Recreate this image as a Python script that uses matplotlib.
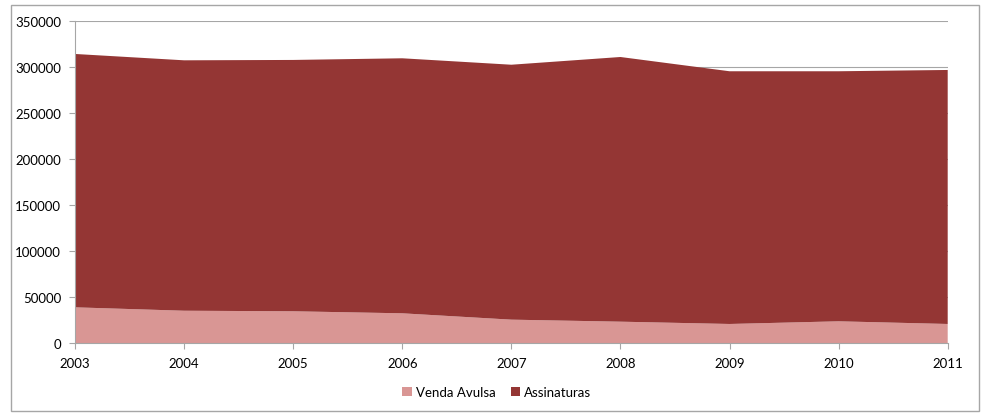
import matplotlib
matplotlib.use("Agg")
import matplotlib.pyplot as plt
from matplotlib.patches import Rectangle, Patch

years = [2003, 2004, 2005, 2006, 2007, 2008, 2009, 2010, 2011]
venda_avulsa = [39100, 35400, 34800, 32600, 25700, 23500, 21000, 23900, 21000]
assinaturas = [275400, 272200, 273200, 277200, 277100, 287700, 274700, 271800, 276100]
series_names = ["Venda Avulsa", "Assinaturas"]
colors = ["#D99694", "#943634"]

plt.rcParams["font.family"] = ["Lato", "DejaVu Sans"]

fig = plt.figure(figsize=(9.86, 4.14), dpi=100)
ax = fig.add_axes([75 / 986, 1 - 344.3 / 414, (947.7 - 75) / 986, (344.3 - 22.3) / 414])

ax.stackplot(years, venda_avulsa, assinaturas, colors=colors, labels=series_names,
             linewidth=0, zorder=2)

ax.set_xlim(years[0], years[-1])
ax.set_ylim(0, 350000)
ax.set_yticks(range(0, 350001, 50000))
ax.set_xticks(years)
ax.yaxis.grid(True, color="#A6A6A6", linewidth=0.8, zorder=0)
ax.set_axisbelow(True)

for side in ["top", "right"]:
    ax.spines[side].set_visible(False)
for side in ["left", "bottom"]:
    ax.spines[side].set_color("#A6A6A6")
    ax.spines[side].set_linewidth(0.8)
ax.tick_params(axis="both", colors="#A6A6A6", labelcolor="black", labelsize=9.5,
               length=4, width=0.8, direction="out")
ax.tick_params(axis="x", pad=6)
ax.tick_params(axis="y", pad=6)

handles = [Patch(facecolor=c, edgecolor="none") for c in colors]
fig.legend(handles, series_names, loc="center", bbox_to_anchor=(497 / 986, 1 - 393 / 414),
           ncol=2, frameon=False, fontsize=9.5, handlelength=0.7, handleheight=0.7,
           handletextpad=0.3, columnspacing=1.2)

fig.patches.append(Rectangle((11 / 986, 2 / 414), (979 - 11) / 986, (410 - 4) / 414,
                             transform=fig.transFigure, fill=False,
                             edgecolor="#A6A6A6", linewidth=1.0))

fig.savefig("out.png", dpi=100)
